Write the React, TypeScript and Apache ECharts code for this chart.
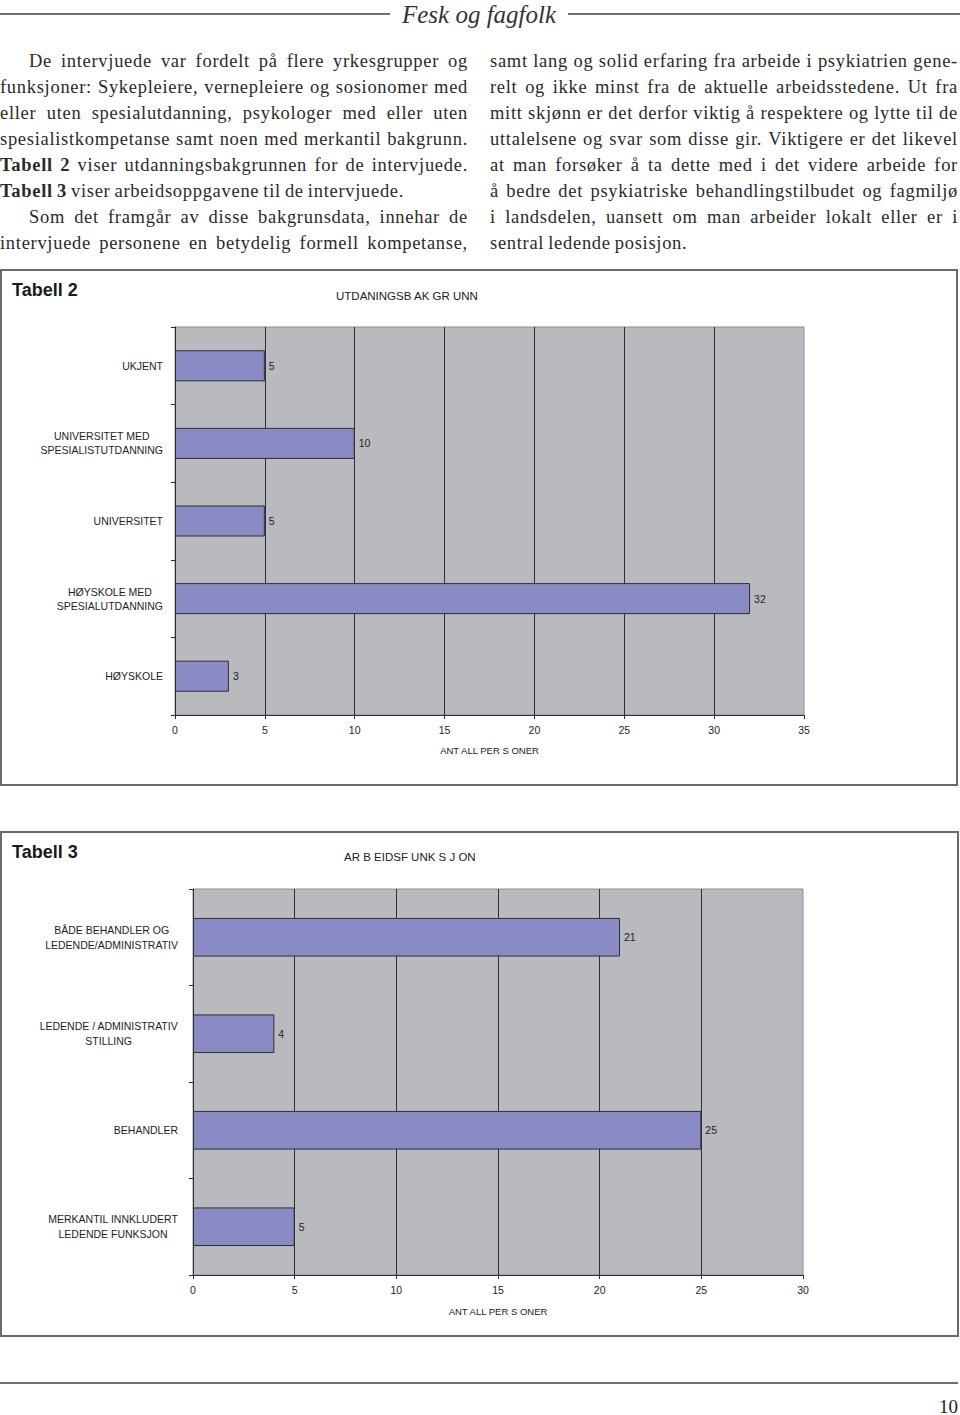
import React, { useEffect, useRef } from "react";
import * as echarts from "echarts";

const headerTitle = "Fesk og fagfolk";
const pageNumber = "10";

const leftLines: { words: string[]; bold?: number; indent?: boolean; last?: boolean }[] = [
  { words: "De intervjuede var fordelt på flere yrkesgrupper og".split(" "), indent: true },
  { words: "funksjoner: Sykepleiere, vernepleiere og sosionomer med".split(" ") },
  { words: "eller uten spesialutdanning, psykologer med eller uten".split(" ") },
  { words: "spesialistkompetanse samt noen med merkantil bakgrunn.".split(" ") },
  { words: "Tabell 2 viser utdanningsbakgrunnen for de intervjuede.".split(" "), bold: 2 },
  { words: "Tabell 3 viser arbeidsoppgavene til de intervjuede.".split(" "), bold: 2, last: true },
  { words: "Som det framgår av disse bakgrunsdata, innehar de".split(" "), indent: true },
  { words: "intervjuede personene en betydelig formell kompetanse,".split(" ") },
];

const rightLines: { words: string[]; bold?: number; indent?: boolean; last?: boolean }[] = [
  { words: "samt lang og solid erfaring fra arbeide i psykiatrien gene-".split(" ") },
  { words: "relt og ikke minst fra de aktuelle arbeidsstedene. Ut fra".split(" ") },
  { words: "mitt skjønn er det derfor viktig å respektere og lytte til de".split(" ") },
  { words: "uttalelsene og svar som disse gir. Viktigere er det likevel".split(" ") },
  { words: "at man forsøker å ta dette med i det videre arbeide for".split(" ") },
  { words: "å bedre det psykiatriske behandlingstilbudet og fagmiljø".split(" ") },
  { words: "i landsdelen, uansett om man arbeider lokalt eller er i".split(" ") },
  { words: "sentral ledende posisjon.".split(" "), last: true },
];

// Tabell 2
const table2Label = "Tabell 2";
const title2 = "UTDANINGSB AK GR UNN";
const cats2 = [
  "UKJENT",
  "UNIVERSITET MED\nSPESIALISTUTDANNING",
  "UNIVERSITET",
  "HØYSKOLE MED\nSPESIALUTDANNING",
  "HØYSKOLE",
];
const vals2 = [5, 10, 5, 32, 3];
const axisMax2 = 35;

// Tabell 3
const table3Label = "Tabell 3";
const title3 = "AR B EIDSF UNK S J ON";
const cats3 = [
  "BÅDE BEHANDLER OG\nLEDENDE/ADMINISTRATIV",
  "LEDENDE / ADMINISTRATIV\nSTILLING",
  "BEHANDLER",
  "MERKANTIL INNKLUDERT\nLEDENDE FUNKSJON",
];
const vals3 = [21, 4, 25, 5];
const axisMax3 = 30;

const axisName = "ANT ALL PER S ONER";
const tickInterval = 5;

const SANS = "'Liberation Sans', Arial, sans-serif";
const SERIF = "'Liberation Serif', 'Times New Roman', serif";
const BAR = "#8a8ac4";
const PLOT_BG = "#b9babe";
const DARK = "#2e2e36";

function Line({ l, width }: { l: { words: string[]; bold?: number; indent?: boolean; last?: boolean }; width: number }) {
  return (
    <div
      style={{
        display: "flex",
        justifyContent: l.last ? "flex-start" : "space-between",
        gap: l.last ? "0.22em" : undefined,
        width,
        height: 26,
        lineHeight: "26px",
        whiteSpace: "nowrap",
        paddingLeft: l.indent ? 29 : 0,
        boxSizing: "border-box",
      }}
    >
      {l.words.map((w, i) => (
        <span key={i} style={{ fontWeight: l.bold && i < l.bold ? "bold" : "normal" }}>
          {w}
        </span>
      ))}
    </div>
  );
}

function makeYAxis(gridIndex: number, cats: string[], margin: number, lh: number) {
  return {
    type: "category",
    gridIndex,
    data: cats,
    inverse: true,
    axisLine: { show: true, lineStyle: { color: DARK, width: 1 } },
    axisTick: { show: true, length: 4, lineStyle: { color: DARK } },
    splitLine: { show: false },
    axisLabel: {
      margin,
      formatter: (v: string) => v.split("\n").map((s) => `{c|${s}}`).join("\n"),
      rich: {
        c: { align: "center", fontFamily: SANS, fontSize: 10.5, color: "#1e1e1e", lineHeight: lh },
      },
    },
  };
}

function makeXAxis(gridIndex: number, max: number, gap: number) {
  return {
    type: "value",
    gridIndex,
    min: 0,
    max,
    interval: tickInterval,
    name: axisName,
    nameLocation: "middle",
    nameGap: gap,
    nameTextStyle: { fontFamily: SANS, fontSize: 9.5, color: "#222" },
    axisLine: { show: true, lineStyle: { color: DARK, width: 1 } },
    axisTick: { show: true, length: 4, lineStyle: { color: DARK } },
    axisLabel: { margin: 9, fontFamily: SANS, fontSize: 10.5, color: "#1e1e1e" },
    splitLine: { show: true, showMinLine: false, showMaxLine: false, lineStyle: { color: DARK, width: 1 } },
  };
}

function makeSeries(idx: number, vals: number[]) {
  return {
    type: "bar",
    xAxisIndex: idx,
    yAxisIndex: idx,
    data: vals,
    barWidth: "40%",
    itemStyle: { color: BAR, borderColor: DARK, borderWidth: 1 },
    label: {
      show: true,
      position: "right",
      distance: 4,
      fontFamily: SANS,
      fontSize: 10.5,
      color: "#1e1e1e",
    },
  };
}

export default function App() {
  const ref = useRef<HTMLDivElement>(null);
  useEffect(() => {
    if (!ref.current) return;
    const chart = echarts.init(ref.current, null, { renderer: "svg" });
    chart.setOption({
      animation: false,
      backgroundColor: "#ffffff",
      grid: [
        { left: 175, top: 327, width: 629, height: 388, show: true, backgroundColor: PLOT_BG, borderColor: "#8f8f93", borderWidth: 1 },
        { left: 193, top: 889, width: 610, height: 386, show: true, backgroundColor: PLOT_BG, borderColor: "#8f8f93", borderWidth: 1 },
      ],
      xAxis: [makeXAxis(0, axisMax2, 30), makeXAxis(1, axisMax3, 31)],
      yAxis: [makeYAxis(0, cats2, 12, 14), makeYAxis(1, cats3, 15, 15)],
      series: [makeSeries(0, vals2), makeSeries(1, vals3)],
      graphic: [
        { type: "line", shape: { x1: 0, y1: 14, x2: 390, y2: 14 }, style: { stroke: "#707070", lineWidth: 2 } },
        { type: "line", shape: { x1: 568, y1: 14, x2: 960, y2: 14 }, style: { stroke: "#707070", lineWidth: 2 } },
        {
          type: "text",
          x: 479,
          y: 14,
          style: { text: headerTitle, fontFamily: SERIF, fontStyle: "italic", fontSize: 25, fill: "#333", align: "center", verticalAlign: "middle" },
        },
        { type: "rect", shape: { x: 1, y: 270, width: 956, height: 515 }, style: { fill: "none", stroke: "#6a6a6a", lineWidth: 2 } },
        { type: "rect", shape: { x: 1, y: 832, width: 957, height: 504 }, style: { fill: "none", stroke: "#6a6a6a", lineWidth: 2 } },
        {
          type: "text",
          x: 12,
          y: 290,
          style: { text: table2Label, fontFamily: SANS, fontWeight: "bold", fontSize: 18, fill: "#1a1a1a", verticalAlign: "middle" },
        },
        {
          type: "text",
          x: 12,
          y: 852,
          style: { text: table3Label, fontFamily: SANS, fontWeight: "bold", fontSize: 18, fill: "#1a1a1a", verticalAlign: "middle" },
        },
        {
          type: "text",
          x: 336,
          y: 296,
          style: { text: title2, fontFamily: SANS, fontSize: 11.5, fill: "#222", verticalAlign: "middle" },
        },
        {
          type: "text",
          x: 344,
          y: 857,
          style: { text: title3, fontFamily: SANS, fontSize: 11.5, fill: "#222", verticalAlign: "middle" },
        },
        { type: "line", shape: { x1: 0, y1: 1383, x2: 958, y2: 1383 }, style: { stroke: "#707070", lineWidth: 2 } },
        {
          type: "text",
          x: 958,
          y: 1406,
          style: { text: pageNumber, fontFamily: SERIF, fontSize: 19, fill: "#222", align: "right", verticalAlign: "middle" },
        },
      ],
    });
    return () => chart.dispose();
  }, []);

  const colStyle = {
    position: "absolute" as const,
    top: 48,
    width: 468,
    fontFamily: SERIF,
    fontSize: 18.5,
    letterSpacing: "0.7px",
    color: "#2a2a2a",
    zIndex: 2,
  };

  return (
    <div style={{ position: "absolute", left: 0, top: 0, width: 960, height: 1415, background: "#fff" }}>
      <div ref={ref} style={{ position: "absolute", left: 0, top: 0, width: 960, height: 1415 }} />
      <div style={{ ...colStyle, left: 0 }}>
        {leftLines.map((l, i) => (
          <Line key={i} l={l} width={468} />
        ))}
      </div>
      <div style={{ ...colStyle, left: 490 }}>
        {rightLines.map((l, i) => (
          <Line key={i} l={l} width={468} />
        ))}
      </div>
    </div>
  );
}
